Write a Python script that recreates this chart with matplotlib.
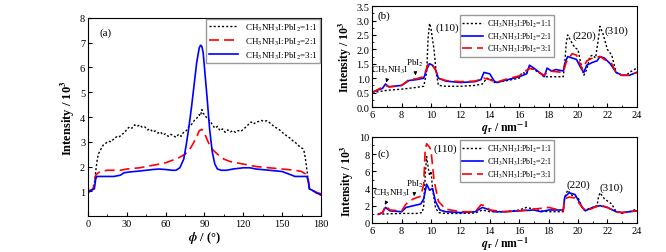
import numpy as np
import matplotlib
matplotlib.use('Agg')
import matplotlib.pyplot as plt
from matplotlib.ticker import MultipleLocator

plt.rcParams['font.family'] = 'serif'
plt.rcParams['font.serif'] = ['Liberation Serif', 'DejaVu Serif']
plt.rcParams['mathtext.fontset'] = 'stix'

labels = [r'CH$_3$NH$_3$I:PbI$_2$=1:1',
          r'CH$_3$NH$_3$I:PbI$_2$=2:1',
          r'CH$_3$NH$_3$I:PbI$_2$=3:1']

# ---- panel (a): azimuthal profiles ----
phi_k = [0, 2, 4, 5, 6, 7, 8, 10, 12, 14, 16, 18, 20, 22, 24, 26, 28, 30, 32, 34, 36, 38, 40, 42,
         44, 46, 48, 50, 52, 54, 56, 58, 60, 62, 64, 66, 68, 70, 72, 74, 76, 78, 80, 82, 84, 86,
         87, 88, 89, 90, 92, 94, 96, 98, 100, 102, 104, 106, 108, 110, 112, 114, 116, 118, 120,
         122, 124, 126, 128, 130, 132, 134, 136, 138, 140, 142, 144, 146, 148, 150, 152, 154,
         156, 158, 160, 162, 164, 166, 167, 168, 169, 170, 171, 173, 176, 178, 180]
int_k = [1.0, 1.05, 1.08, 1.3, 1.8, 2.2, 2.5, 2.7, 2.88, 2.95, 3.02, 3.0, 3.12, 3.2, 3.18, 3.3,
         3.35, 3.5, 3.6, 3.55, 3.68, 3.62, 3.68, 3.58, 3.6, 3.48, 3.52, 3.4, 3.44, 3.35, 3.4,
         3.28, 3.32, 3.22, 3.3, 3.25, 3.18, 3.3, 3.22, 3.4, 3.45, 3.62, 3.7, 3.85, 3.95, 4.1,
         4.05, 4.3, 4.15, 4.1, 3.95, 3.85, 3.7, 3.55, 3.62, 3.45, 3.52, 3.38, 3.48, 3.4, 3.45,
         3.38, 3.45, 3.42, 3.5, 3.6, 3.7, 3.8, 3.72, 3.8, 3.82, 3.86, 3.82, 3.85, 3.78, 3.7,
         3.6, 3.55, 3.48, 3.38, 3.3, 3.22, 3.15, 3.05, 2.98, 2.88, 2.78, 2.72, 2.6, 2.3, 1.9,
         1.5, 1.1, 1.05, 0.95, 0.9, 0.85]

phi_r = [0, 2, 4, 5, 6, 8, 10, 15, 20, 25, 30, 40, 50, 60, 65, 70, 75, 78, 81, 84, 86, 88, 90,
         92, 94, 96, 100, 105, 110, 115, 120, 125, 130, 140, 150, 160, 165, 168, 170, 171, 173,
         177, 180]
int_r = [1.0, 1.05, 1.1, 1.4, 1.65, 1.75, 1.8, 1.85, 1.85, 1.85, 1.9, 1.95, 2.05, 2.15, 2.25,
         2.35, 2.5, 2.65, 2.9, 3.2, 3.45, 3.5, 3.35, 3.1, 2.85, 2.7, 2.5, 2.3, 2.2, 2.15, 2.1,
         2.05, 2.0, 1.95, 1.9, 1.85, 1.8, 1.7, 1.55, 1.15, 1.05, 0.95, 0.9]

phi_b = [0, 3, 5, 6, 7, 10, 20, 25, 28, 32, 40, 50, 55, 60, 65, 68, 71, 74, 76, 78, 80, 82, 84,
         86, 87, 88, 89, 90, 92, 94, 96, 98, 100, 103, 107, 112, 120, 125, 130, 140, 150, 155,
         160, 165, 169, 170, 171, 173, 176, 180]
int_b = [0.95, 1.05, 1.1, 1.5, 1.6, 1.6, 1.6, 1.65, 1.75, 1.78, 1.82, 1.88, 1.9, 1.88, 1.85,
         1.85, 1.95, 2.3, 2.9, 3.6, 4.4, 5.3, 6.2, 6.8, 6.9, 6.85, 6.6, 6.0, 4.8, 3.5, 2.6, 2.1,
         1.9, 1.85, 1.85, 1.9, 1.95, 1.95, 1.9, 1.85, 1.8, 1.7, 1.6, 1.6, 1.6, 1.45, 1.1, 1.05,
         0.95, 0.85]

# ---- panel (b): radial profiles ----
qb_k = [6, 7, 8, 9, 9.5, 9.7, 9.8, 9.9, 10.0, 10.2, 10.35, 10.5, 11, 12, 13, 13.5, 13.8, 14.1,
        14.3, 15, 16, 16.2, 16.5, 16.7, 17, 17.5, 17.7, 18, 18.5, 19, 19.1, 19.2, 19.3, 19.5,
        19.8, 20, 20.2, 20.4, 20.6, 20.8, 21, 21.2, 21.4, 21.5, 21.7, 22, 22.3, 22.6, 23, 23.3,
        23.5, 24]
ib_k = [0.5, 0.58, 0.62, 0.68, 0.72, 1.2, 2.4, 2.9, 2.7, 2.0, 1.2, 0.75, 0.72, 0.72, 0.75, 0.8,
        1.0, 0.95, 0.85, 0.9, 1.0, 1.2, 1.15, 1.35, 1.3, 1.15, 1.05, 1.05, 1.05, 1.05, 1.5, 2.2,
        2.5, 2.3, 2.05, 2.0, 1.5, 1.1, 1.3, 1.75, 1.8, 1.7, 2.4, 2.8, 2.55, 2.0, 1.8, 1.2, 1.1,
        1.1, 1.2, 1.35]

qb_2 = [6, 6.7, 6.9, 7.1, 8, 8.5, 9, 9.5, 9.7, 9.9, 10.1, 10.3, 10.5, 11, 12, 13, 13.4, 13.6,
        14, 14.3, 14.5, 15, 16, 16.5, 16.7, 17, 17.5, 17.7, 17.9, 18.2, 18.5, 19, 19.1, 19.3,
        19.6, 19.9, 20.2, 20.4, 20.6, 21, 21.3, 21.5, 21.8, 22.2, 22.6, 23, 23.5, 24]
ib_2 = [0.52, 0.65, 0.8, 0.7, 0.75, 0.92, 0.95, 1.0, 1.3, 1.5, 1.45, 1.3, 1.0, 0.9, 0.85, 0.88,
        0.95, 1.2, 1.15, 0.9, 0.85, 0.92, 1.05, 1.15, 1.45, 1.35, 1.15, 1.05, 1.35, 1.25, 1.3,
        1.25, 1.5, 1.75, 1.7, 1.65, 1.35, 1.2, 1.45, 1.55, 1.6, 1.75, 1.7, 1.5, 1.2, 1.1, 1.1,
        1.2]

qb_3 = [6, 6.9, 7.2, 8, 8.5, 9, 9.5, 9.8, 10.0, 10.3, 10.5, 11, 12, 13, 13.6, 14, 14.4, 15, 16,
        16.7, 17, 17.7, 18, 19, 19.2, 19.6, 19.9, 20.3, 20.6, 21, 21.5, 21.8, 22.3, 22.6, 23,
        23.5, 24]
ib_3 = [0.5, 0.75, 0.7, 0.75, 0.95, 0.98, 1.05, 1.5, 1.5, 1.3, 1.0, 0.92, 0.88, 0.9, 1.0, 0.95,
        0.85, 0.95, 1.08, 1.35, 1.3, 1.1, 1.25, 1.2, 1.55, 1.85, 1.8, 1.3, 1.6, 1.7, 1.75, 1.65,
        1.5, 1.2, 1.1, 1.1, 1.2]

# ---- panel (c): radial profiles ----
qc_k = [6.4, 7, 8, 9, 9.4, 9.5, 9.6, 9.7, 9.8, 9.9, 10.0, 10.1, 10.3, 10.5, 11, 12, 13, 13.5,
        14, 15, 16, 16.5, 17, 17.5, 18, 19, 19.1, 19.3, 19.6, 20, 20.3, 20.5, 21, 21.3, 21.4,
        21.5, 21.8, 22.3, 22.6, 23, 23.5, 24]
ic_k = [1.0, 1.05, 1.1, 1.1, 1.2, 2.0, 5.5, 7.7, 6.5, 5.5, 6.0, 4.0, 1.8, 1.2, 1.1, 1.1, 1.15,
        1.5, 1.3, 1.3, 1.5, 1.8, 1.6, 1.4, 1.3, 1.3, 3.0, 3.8, 3.2, 3.0, 1.7, 1.5, 1.8, 2.0,
        3.0, 3.5, 2.8, 2.2, 1.3, 1.1, 1.3, 1.6]

qc_2 = [6.4, 6.7, 6.9, 7.2, 8, 8.3, 8.8, 9.3, 9.5, 9.7, 9.9, 10.1, 10.3, 10.6, 11, 12, 13, 13.5,
        14, 14.3, 15, 16, 17, 17.5, 18, 19, 19.1, 19.4, 19.8, 20.3, 20.5, 21, 21.5, 22, 22.6,
        23, 24]
ic_2 = [1.0, 1.2, 1.8, 1.4, 1.3, 1.8, 2.0, 2.2, 2.8, 4.5, 3.8, 4.0, 2.5, 1.5, 1.3, 1.2, 1.3,
        1.8, 1.5, 1.3, 1.3, 1.4, 1.5, 1.3, 1.5, 1.5, 3.0, 3.5, 3.3, 1.8, 1.4, 1.8, 2.0, 1.8,
        1.3, 1.2, 1.4]

qc_3 = [6.4, 6.7, 6.9, 7.2, 8, 8.3, 8.8, 9.3, 9.5, 9.6, 9.7, 9.9, 10.0, 10.2, 10.5, 11, 12, 13,
        13.4, 13.7, 14, 15, 16, 17, 18, 19, 19.1, 19.4, 19.8, 20.3, 20.5, 21, 21.5, 22, 22.6,
        23, 24]
ic_3 = [1.0, 1.2, 2.0, 1.5, 1.4, 2.2, 2.8, 3.1, 4.5, 8.5, 9.2, 8.8, 8.4, 5.0, 2.5, 1.6, 1.3, 1.3,
        2.1, 2.0, 1.5, 1.3, 1.4, 1.6, 1.8, 1.4, 2.8, 3.0, 2.9, 1.8, 1.4, 1.7, 2.1, 1.8, 1.3,
        1.2, 1.4]

fig = plt.figure(figsize=(6.66, 2.53), dpi=100)
ax_a = fig.add_axes([0.132, 0.142, 0.350, 0.783])
ax_b = fig.add_axes([0.559, 0.573, 0.397, 0.399])
ax_c = fig.add_axes([0.559, 0.115, 0.397, 0.340])

dot = dict(color='black', ls=(0, (1.5, 1.5)), lw=1.0)
dash = dict(color='red', ls=(0, (6, 3)), lw=1.2)
solid = dict(color='blue', ls='-', lw=1.2)

ax_a.plot(phi_k, int_k, label=labels[0], **dot)
ax_a.plot(phi_r, int_r, label=labels[1], **dash)
ax_a.plot(phi_b, int_b, label=labels[2], **solid)
ax_a.set_xlim(0, 180)
ax_a.set_ylim(0, 8)
ax_a.set_xticks([0, 30, 60, 90, 120, 150, 180])
ax_a.set_yticks([1, 2, 3, 4, 5, 6, 7, 8])
ax_a.xaxis.set_minor_locator(MultipleLocator(15))
ax_a.set_xlabel(r'$\mathbfit{\phi}$ / (°)', fontsize=9, fontweight='bold', labelpad=1)
ax_a.set_ylabel(r'Intensity / 10$^{\mathbf{3}}$', fontsize=9, fontweight='bold', labelpad=2)
ax_a.text(0.05, 0.93, '(a)', transform=ax_a.transAxes, fontsize=8, va='center')
ax_a.legend(loc='upper right', fontsize=6.5, handlelength=3.2, borderaxespad=0.1,
            fancybox=False, edgecolor='0.6', framealpha=1, labelspacing=0.3, borderpad=0.3)

for ax, dat, ylim, step, minor, top in [
        (ax_b, [(qb_k, ib_k, dot), (qb_2, ib_2, solid), (qb_3, ib_3, dash)], 3.5, 0.5, 0.25, 0.91),
        (ax_c, [(qc_k, ic_k, dot), (qc_2, ic_2, solid), (qc_3, ic_3, dash)], 10, 2, 1, 0.96)]:
    for (x, y, st), lab in zip(dat, labels):
        ax.plot(x, y, label=lab, **st)
    ax.set_xlim(6, 24)
    ax.set_ylim(0, ylim)
    ax.set_xticks(np.arange(6, 25, 2))
    ax.xaxis.set_minor_locator(MultipleLocator(1))
    ax.yaxis.set_major_locator(MultipleLocator(step))
    ax.yaxis.set_minor_locator(MultipleLocator(minor))
    ax.set_xlabel(r'$\mathbfit{q}_\mathbf{r}$ / nm$^{\mathbf{-1}}$', fontsize=8.5,
                  fontweight='bold', labelpad=0)
    ax.set_ylabel(r'Intensity / 10$^{\mathbf{3}}$', fontsize=8.5, fontweight='bold', labelpad=2)
    ax.legend(loc='upper left', bbox_to_anchor=(0.33, top), borderaxespad=0, fontsize=5.8,
              handlelength=2.6, handletextpad=0.5, fancybox=False, edgecolor='0.6',
              framealpha=1, labelspacing=0.2, borderpad=0.3)

ax_b.yaxis.set_major_formatter(matplotlib.ticker.FormatStrFormatter('%.1f'))

for ax in (ax_a, ax_b, ax_c):
    ax.tick_params(which='both', direction='in', labelsize=7.5, pad=2)
    ax.tick_params(which='major', length=3)
    ax.tick_params(which='minor', length=1.5)

arr = dict(arrowstyle='-|>', color='black', lw=0.6, mutation_scale=5)
ax_b.text(0.02, 0.88, '(b)', transform=ax_b.transAxes, fontsize=8)
ax_b.text(10.3, 2.77, '(110)', fontsize=8, va='center')
ax_b.text(19.6, 2.5, '(220)', fontsize=8, va='center')
ax_b.text(21.8, 2.65, '(310)', fontsize=8, va='center')
ax_b.annotate(r'CH$_3$NH$_3$I', xy=(6.95, 0.85), xytext=(7.2, 1.32), fontsize=6.5,
              ha='center', va='center', arrowprops=arr)
ax_b.annotate(r'PbI$_2$', xy=(8.95, 1.0), xytext=(8.9, 1.56), fontsize=6.5,
              ha='center', va='center', arrowprops=arr)

ax_c.text(0.02, 0.78, '(c)', transform=ax_c.transAxes, fontsize=8)
ax_c.text(10.2, 8.7, '(110)', fontsize=8, va='center')
ax_c.text(19.2, 4.5, '(220)', fontsize=8, va='center')
ax_c.text(21.5, 4.2, '(310)', fontsize=8, va='center')
ax_c.annotate(r'CH$_3$NH$_3$I', xy=(6.85, 2.1), xytext=(7.3, 3.5), fontsize=6.5,
              ha='center', va='center', arrowprops=arr)
ax_c.annotate(r'PbI$_2$', xy=(8.85, 3.1), xytext=(8.9, 4.65), fontsize=6.5,
              ha='center', va='center', arrowprops=arr)

fig.savefig('out.png', dpi=100)
